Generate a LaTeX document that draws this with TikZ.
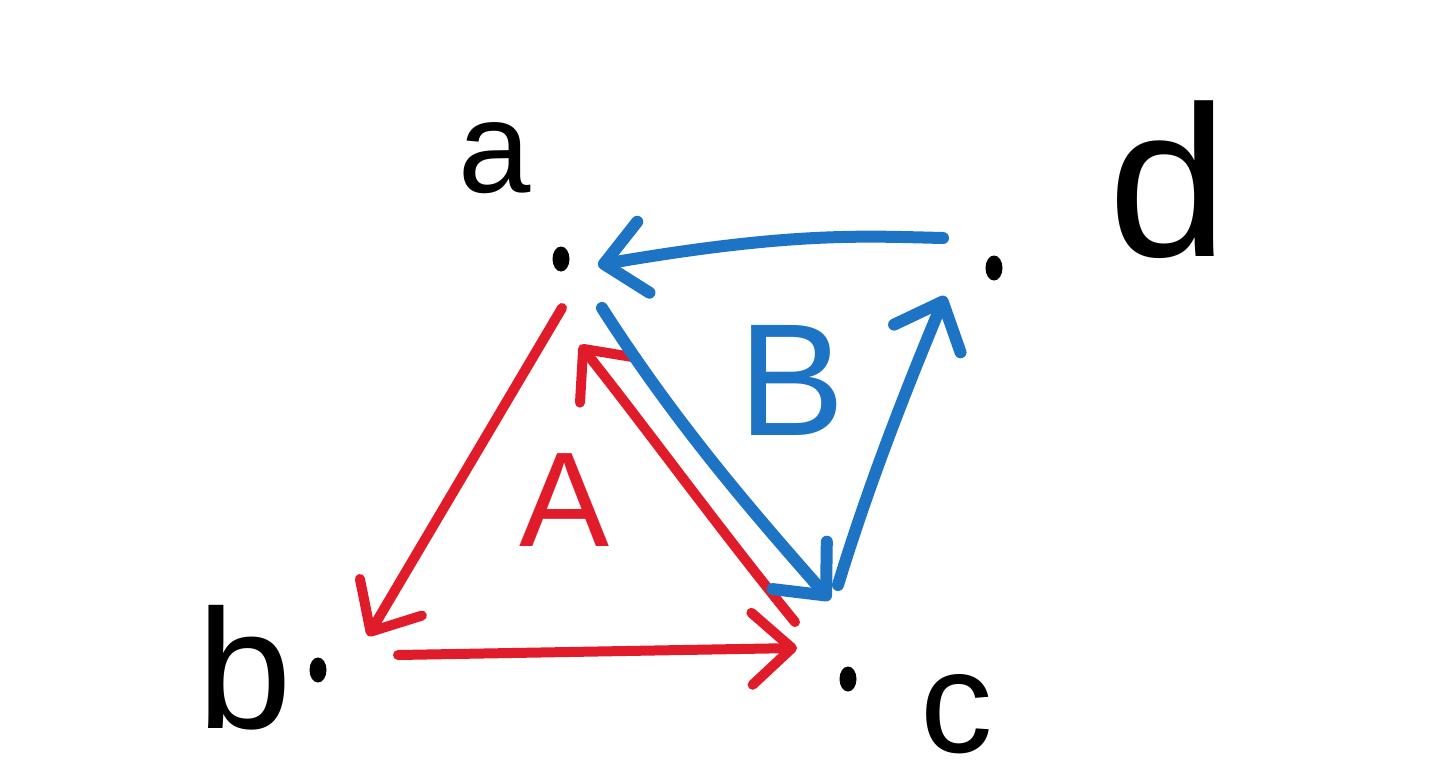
\documentclass[tikz,border=0pt]{standalone}
\usepackage{fontspec}
\setmainfont{Liberation Sans}
\usetikzlibrary{arrows.meta,shapes.geometric}
\definecolor{penred}{HTML}{E01B2A}
\definecolor{penblue}{HTML}{1E74C4}
\tikzset{
  dot/.style={fill=black, ellipse, inner sep=0pt, minimum width=17pt, minimum height=25pt},
  lbl/.style={inner sep=0pt, text=black},
  redpen/.style={draw=penred, line width=10pt, line cap=round, line join=round,
    -{Straight Barb[length=40pt,width=72pt,line cap=round,line join=round]}},
  bluepen/.style={draw=penblue, line width=12pt, line cap=round, line join=round,
    -{Straight Barb[length=40pt,width=72pt,line cap=round,line join=round]}},
}
\begin{document}
\begin{tikzpicture}[x=1pt,y=-1pt]
\useasboundingbox (0,0) rectangle (1444,784);
% points
\node[dot] (a) at (561,259) {};
\node[dot] (d) at (994,268) {};
\node[dot] (b) at (318,670) {};
\node[dot] (c) at (848,679) {};
% labels
\node[lbl, font=\fontsize{130}{130}\selectfont] (la) at (495,158) {a};
\node[lbl, font=\fontsize{215}{215}\selectfont] (ld) at (1168,180) {d};
\node[lbl, font=\fontsize{170}{170}\selectfont] (lb) at (245,668) {b};
\node[lbl, font=\fontsize{145}{145}\selectfont] (lc) at (957,714) {c};
\node[lbl, text=penred, font=\fontsize{135}{135}\selectfont] (lA) at (565,500) {A};
\node[lbl, text=penblue, font=\fontsize{160}{160}\selectfont] (lB) at (792,380) {B};
% arrow end points
\coordinate (ab1) at (562,308);
\coordinate (ab2) at (368,636);
\coordinate (bc1) at (398,655);
\coordinate (bc2) at (797,648);
\coordinate (ca1) at (795,622);
\coordinate (ca2) at (580,345);
\coordinate (da1) at (943,238);
\coordinate (da2) at (598,265);
\coordinate (ac1) at (602,308);
\coordinate (ac2) at (830,600);
\coordinate (cd1) at (838,585);
\coordinate (cd2) at (945,296);
% red
\draw[redpen] (ab1) -- (ab2);
\draw[redpen] (bc1) -- (bc2);
\draw[redpen] (ca1) .. controls (720,530) and (640,420) .. (ca2);
% blue
\draw[bluepen] (da1) .. controls (860,236) and (790,232) .. (da2);
\draw[bluepen] (ac1) .. controls (680,430) and (760,520) .. (ac2);
\draw[bluepen] (cd1) .. controls (870,480) and (910,380) .. (cd2);
\end{tikzpicture}
\end{document}
